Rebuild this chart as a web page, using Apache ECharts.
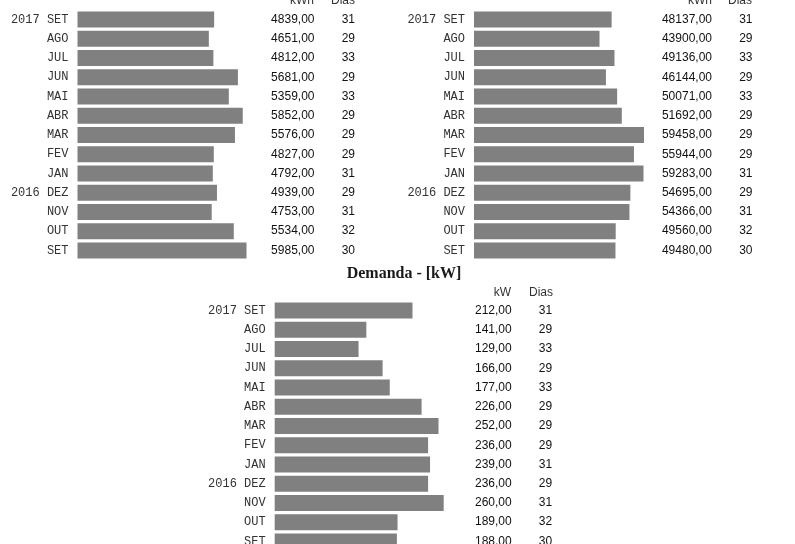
<!DOCTYPE html>
<html>
<head>
<meta charset="utf-8">
<script src="https://cdn.jsdelivr.net/npm/echarts@6/dist/echarts.min.js"></script>
<style>
html,body{margin:0;padding:0;background:#fff;overflow:hidden;}
#chart{width:795px;height:560px;}
</style>
</head>
<body>
<div id="chart"></div>
<script>
var months = ['2017 SET','AGO','JUL','JUN','MAI','ABR','MAR','FEV','JAN','2016 DEZ','NOV','OUT','SET'];
var energyLeft = [4839,4651,4812,5681,5359,5852,5576,4827,4792,4939,4753,5534,5985];
var daysLeft = [31,29,33,29,33,29,29,29,31,29,31,32,30];
var energyRight = [48137,43900,49136,46144,50071,51692,59458,55944,59283,54695,54366,49560,49480];
var daysRight = [31,29,33,29,33,29,29,29,31,29,31,32,30];
var demand = [212,141,129,166,177,226,252,236,239,236,260,189,188];
var daysDemand = [31,29,33,29,33,29,29,29,31,29,31,32,30];
var titleDemand = 'Demanda - [kW]';
var headEnergy = 'kWh', headDemand = 'kW', headDays = 'Dias';

function fmt(v){ return v.toFixed(2).replace('.', ','); }

var chart = echarts.init(document.getElementById('chart'), null, {renderer:'canvas'});

var panels = [
  {left:77.5, width:169, top:10, height:250, vals:energyLeft, days:daysLeft},
  {left:474, width:170, top:10, height:250, vals:energyRight, days:daysRight},
  {left:274.7, width:169, top:301, height:250, vals:demand, days:daysDemand}
];

var grids=[], xAxes=[], yAxes=[], series=[];
panels.forEach(function(p, i){
  grids.push({left:p.left, width:p.width, top:p.top, height:p.height, containLabel:false});
  xAxes.push({type:'value', gridIndex:i, min:0, max:'dataMax', show:false});
  var base = {type:'category', gridIndex:i, inverse:true, data:months,
    axisLine:{show:false}, axisTick:{show:false}, splitLine:{show:false}};
  yAxes.push(Object.assign({}, base, {position:'left',
    axisLabel:{margin:9, fontFamily:'Liberation Mono', fontSize:12, color:'#333'}}));
  yAxes.push(Object.assign({}, base, {position:'right', data:p.vals.map(fmt),
    axisLabel:{margin:68, align:'right', fontFamily:'Liberation Sans', fontSize:12, color:'#111'}}));
  yAxes.push(Object.assign({}, base, {position:'right', data:p.days.map(String),
    axisLabel:{margin:108.5, align:'right', fontFamily:'Liberation Sans', fontSize:12, color:'#111'}}));
  series.push({type:'bar', xAxisIndex:i, yAxisIndex:i*3, data:p.vals, barWidth:16,
    itemStyle:{color:'#808080'}, silent:true, animation:false});
});

function header(txt, x, y){
  return {type:'text', x:x, y:y, style:{text:txt, align:'right', verticalAlign:'middle',
    font:'12px "Liberation Sans"', fill:'#333'}};
}

chart.setOption({
  animation:false,
  grid:grids, xAxis:xAxes, yAxis:yAxes, series:series,
  graphic:[
    {type:'text', x:404, y:274, style:{text:titleDemand, align:'center', verticalAlign:'middle',
      font:'bold 16px "Liberation Serif"', fill:'#1a1a1a'}},
    header(headEnergy, 314, 1), header(headDays, 355, 1),
    header(headEnergy, 712, 1), header(headDays, 752, 1),
    header(headDemand, 511, 293), header(headDays, 553, 293)
  ]
});
</script>
</body>
</html>
